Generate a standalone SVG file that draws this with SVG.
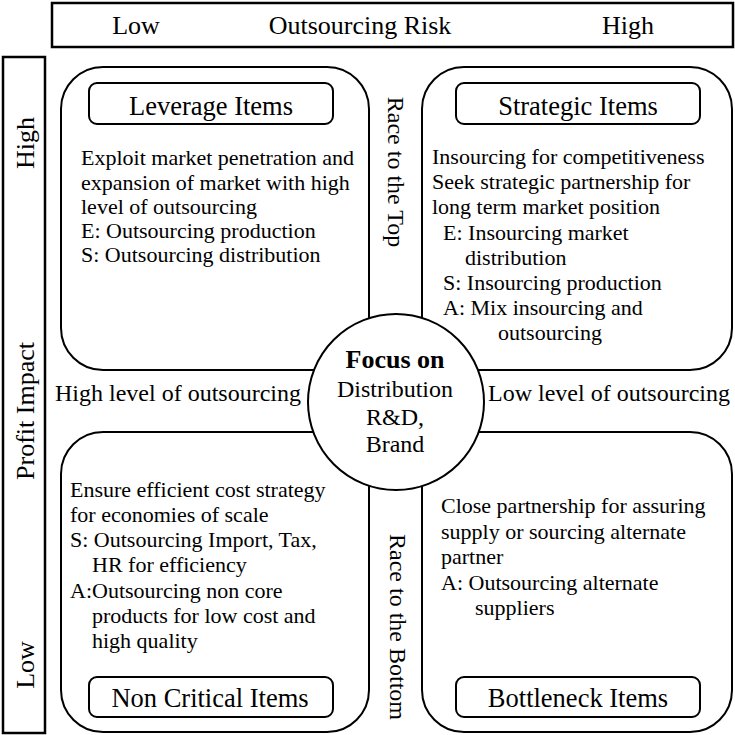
<svg xmlns="http://www.w3.org/2000/svg" width="735" height="735" viewBox="0 0 735 735">
<style>
text{font-family:"Liberation Serif","Times New Roman",serif;fill:#000}
.frame{fill:#fff;stroke:#000;stroke-width:2.5}
.quad{fill:#fff;stroke:#000;stroke-width:2}
.title{fill:#fff;stroke:#000;stroke-width:2}
.axis{font-size:26px}
.ttl{font-size:26.5px;text-anchor:middle}
.body{font-size:22px}
.lbl{font-size:24px}
.ctr{font-size:24px;text-anchor:middle}
</style>
<rect width="735" height="735" fill="#fff"/>
<g id="risk-axis">
<rect class="frame" x="52" y="3" width="681" height="44"/>
<text class="axis" x="136" y="34" text-anchor="middle">Low</text>
<text class="axis" x="360" y="34" text-anchor="middle">Outsourcing Risk</text>
<text class="axis" x="628" y="34" text-anchor="middle">High</text>
</g>
<g id="profit-axis">
<rect class="frame" x="3" y="57" width="42" height="676"/>
<text class="axis" transform="translate(34,143) rotate(-90)" text-anchor="middle">High</text>
<text class="axis" transform="translate(34,411) rotate(-90)" text-anchor="middle">Profit Impact</text>
<text class="axis" transform="translate(34,665) rotate(-90)" text-anchor="middle">Low</text>
</g>
<g id="leverage">
<rect class="quad" x="61" y="67" width="308" height="303" rx="42"/>
<rect class="title" x="89" y="83" width="244" height="41" rx="8"/>
<text class="ttl" x="211" y="115">Leverage Items</text>
<text class="body" x="81" y="165">Exploit market penetration and</text>
<text class="body" x="81" y="189.5">expansion of market with high</text>
<text class="body" x="81" y="214">level of outsourcing</text>
<text class="body" x="81" y="238">E: Outsourcing production</text>
<text class="body" x="81" y="262">S: Outsourcing distribution</text>
</g>
<g id="strategic">
<rect class="quad" x="422" y="67" width="310" height="303" rx="42"/>
<rect class="title" x="456" y="83" width="244" height="41" rx="8"/>
<text class="ttl" x="578" y="115">Strategic Items</text>
<text class="body" x="432" y="164">Insourcing for competitiveness</text>
<text class="body" x="432" y="189">Seek strategic partnership for</text>
<text class="body" x="432" y="214">long term market position</text>
<text class="body" x="443" y="240">E: Insourcing market</text>
<text class="body" x="465" y="265">distribution</text>
<text class="body" x="443" y="290">S: Insourcing production</text>
<text class="body" x="443" y="315">A: Mix insourcing and</text>
<text class="body" x="498" y="340">outsourcing</text>
</g>
<g id="noncritical">
<rect class="quad" x="61" y="432" width="308" height="300" rx="42"/>
<rect class="title" x="89" y="677" width="244" height="40" rx="8"/>
<text class="ttl" x="210" y="707">Non Critical Items</text>
<text class="body" x="70" y="497">Ensure efficient cost strategy</text>
<text class="body" x="70" y="522">for economies of scale</text>
<text class="body" x="70" y="547">S: Outsourcing Import, Tax,</text>
<text class="body" x="92" y="572">HR for efficiency</text>
<text class="body" x="70" y="598">A:Outsourcing non core</text>
<text class="body" x="92" y="623">products for low cost and</text>
<text class="body" x="92" y="648">high quality</text>
</g>
<g id="bottleneck">
<rect class="quad" x="422" y="432" width="310" height="300" rx="42"/>
<rect class="title" x="456" y="677" width="244" height="40" rx="8"/>
<text class="ttl" x="578" y="707">Bottleneck Items</text>
<text class="body" x="441" y="513">Close partnership for assuring</text>
<text class="body" x="441" y="539">supply or sourcing alternate</text>
<text class="body" x="441" y="564">partner</text>
<text class="body" x="441" y="590">A: Outsourcing alternate</text>
<text class="body" x="475" y="615">suppliers</text>
</g>
<g id="labels">
<text class="lbl" transform="translate(388,172) rotate(90)" text-anchor="middle">Race to the Top</text>
<text class="lbl" transform="translate(390,627) rotate(90)" text-anchor="middle">Race to the Bottom</text>
<text class="lbl" x="55" y="401">High level of outsourcing</text>
<text class="lbl" x="488" y="401">Low level of outsourcing</text>
</g>
<g id="focus">
<circle cx="396" cy="402" r="88" fill="#fff" stroke="#000" stroke-width="2"/>
<text x="395" y="368" font-size="26" font-weight="bold" text-anchor="middle">Focus on</text>
<text class="ctr" x="395" y="397">Distribution</text>
<text class="ctr" x="395" y="425">R&amp;D,</text>
<text class="ctr" x="395" y="452">Brand</text>
</g>
</svg>
